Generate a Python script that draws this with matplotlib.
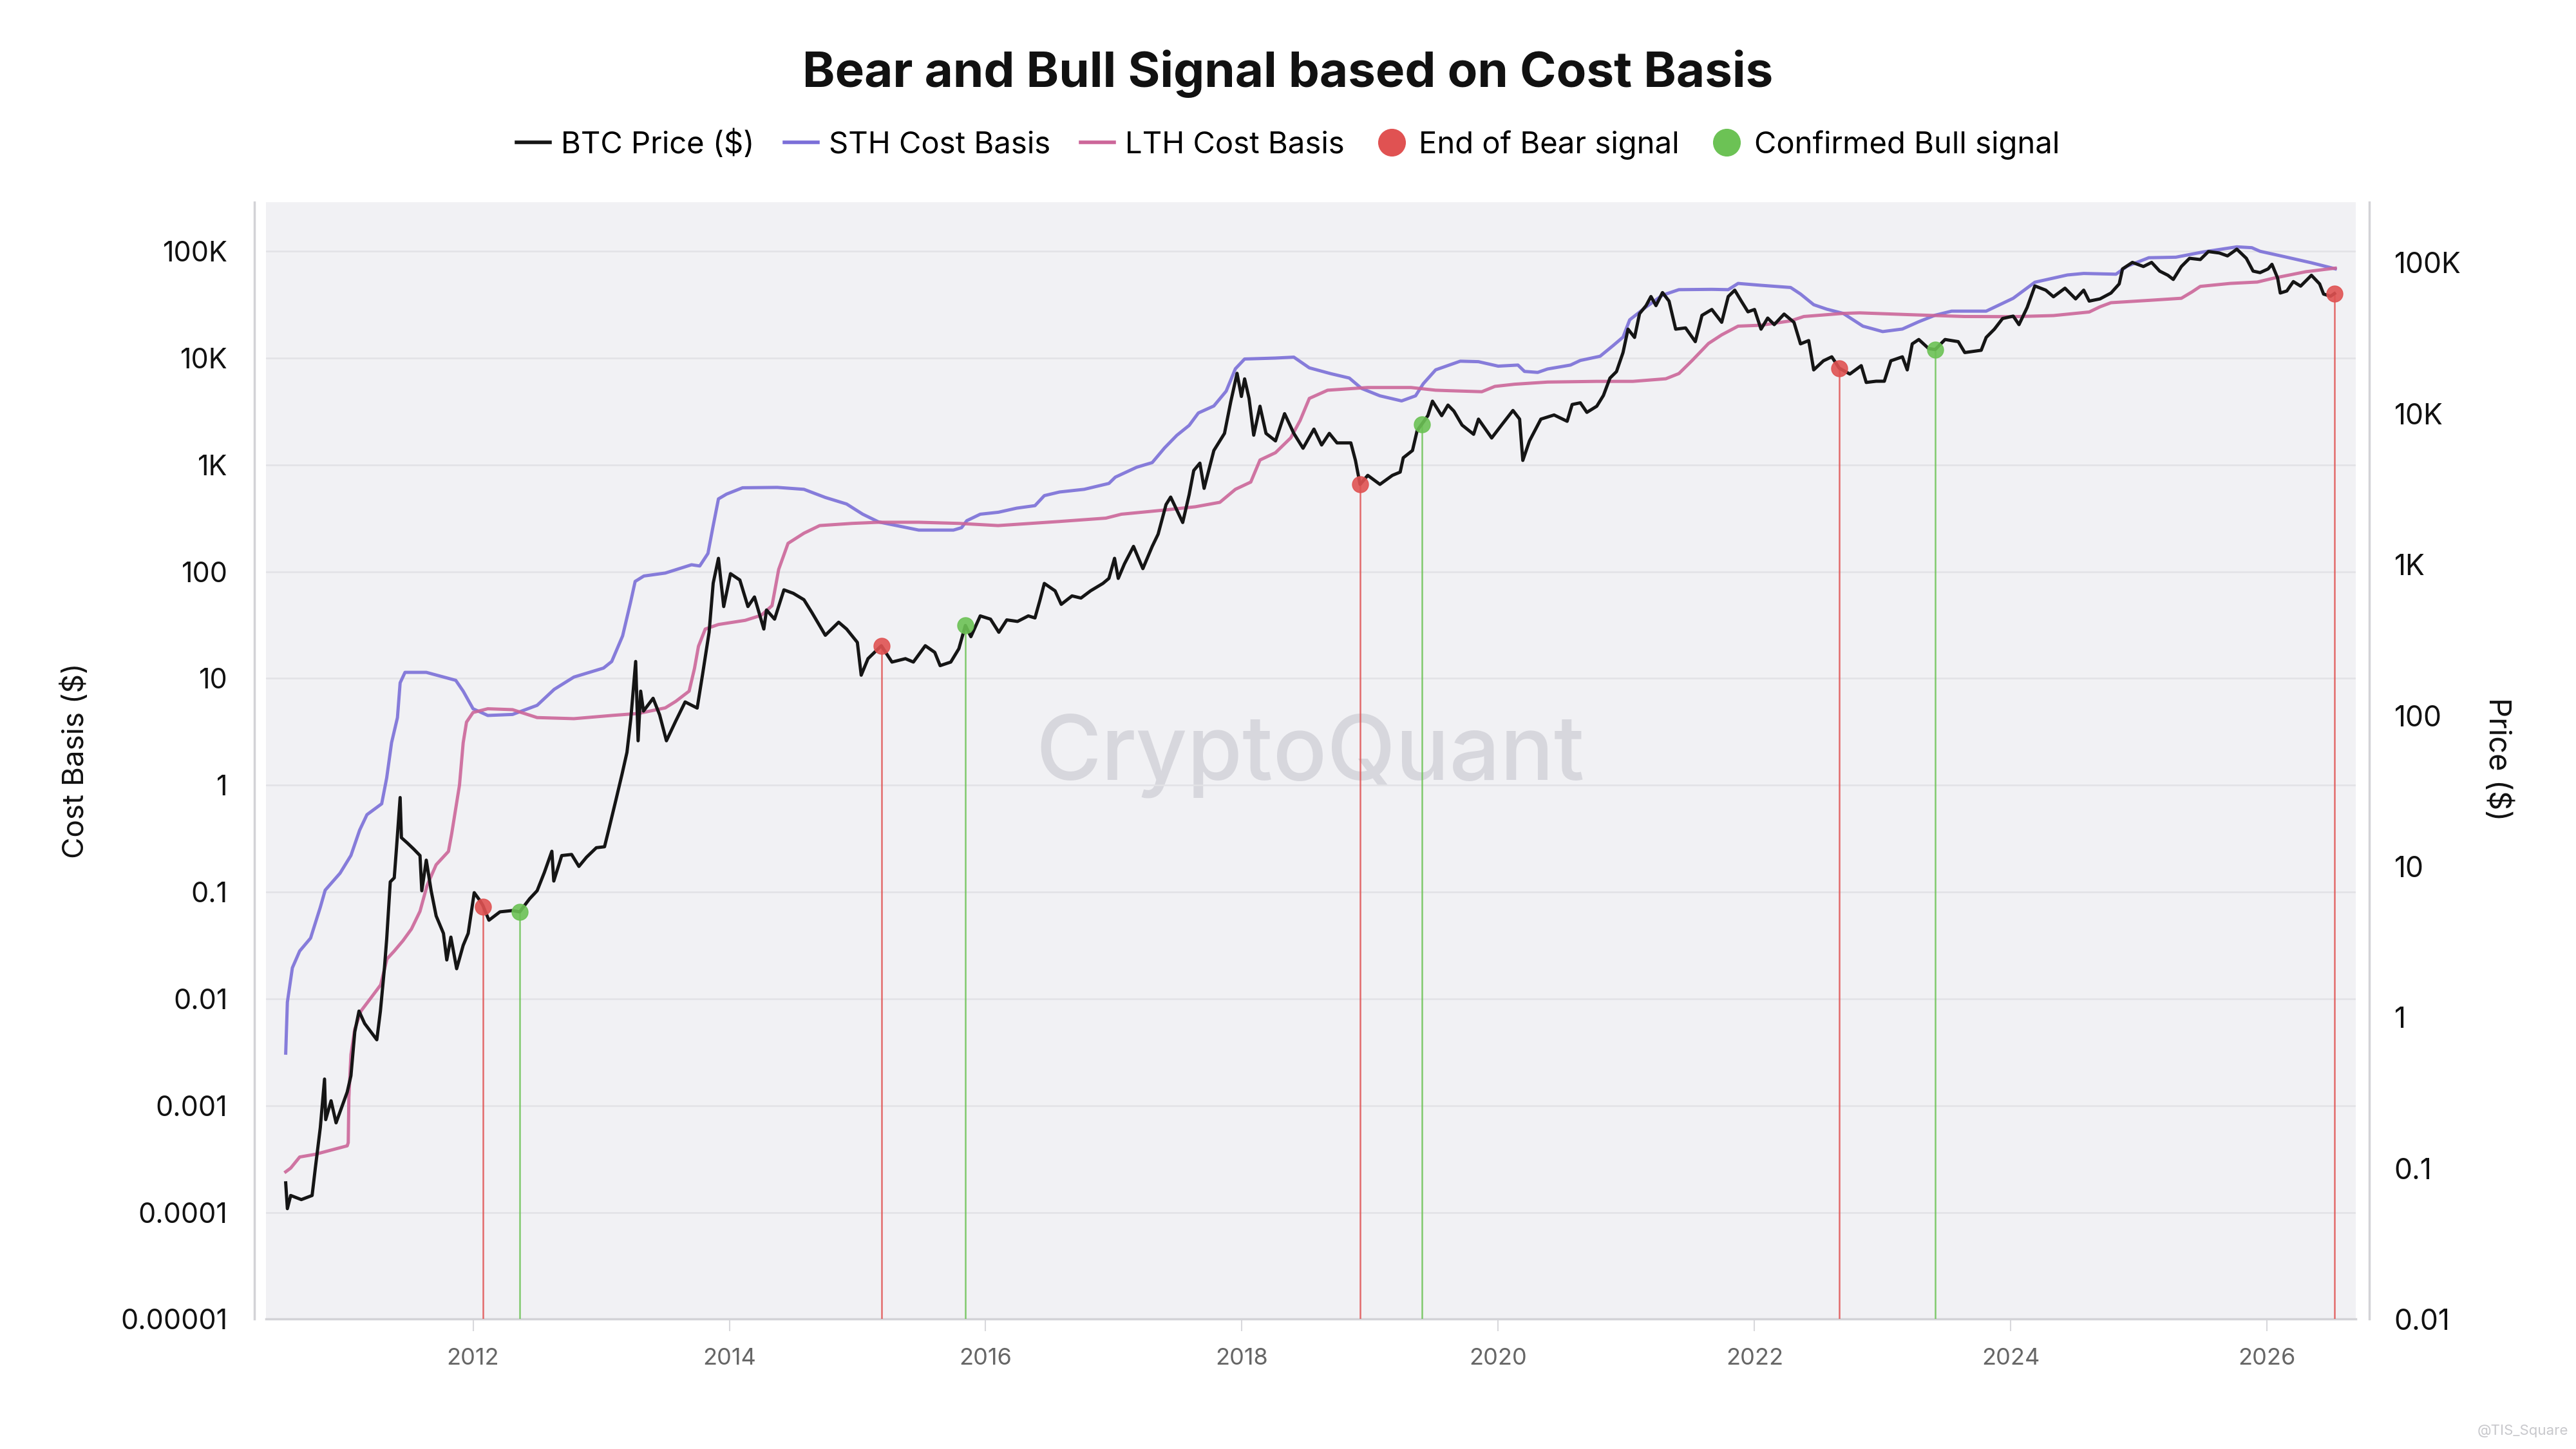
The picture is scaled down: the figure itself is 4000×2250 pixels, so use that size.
#%% Librerias
import matplotlib
matplotlib.use('Agg')
import matplotlib.pyplot as plt
from matplotlib.lines import Line2D
from matplotlib.ticker import NullLocator

plt.rcParams['font.family'] = ['Inter', 'DejaVu Sans']

#%% Datos (fecha en anos decimales)
btc_t = [2010.538, 2010.551, 2010.577, 2010.66, 2010.744, 2010.769, 2010.808, 2010.841, 2010.85, 2010.892,
         2010.931, 2011.018, 2011.047, 2011.077, 2011.110, 2011.154, 2011.249, 2011.277, 2011.308, 2011.326,
         2011.354, 2011.385, 2011.403, 2011.431, 2011.441, 2011.487, 2011.538, 2011.586, 2011.60, 2011.635,
         2011.673, 2011.712, 2011.769, 2011.795, 2011.827, 2011.872, 2011.923, 2011.962, 2012.009, 2012.056,
         2012.077, 2012.124, 2012.210, 2012.308, 2012.364, 2012.441, 2012.500, 2012.556, 2012.615, 2012.63,
         2012.692, 2012.769, 2012.826, 2012.885, 2012.962, 2013.026, 2013.058, 2013.115, 2013.163, 2013.201,
         2013.231, 2013.269, 2013.288, 2013.308, 2013.33, 2013.405, 2013.456, 2013.509, 2013.582, 2013.655,
         2013.749, 2013.791, 2013.842, 2013.874, 2013.915, 2013.956, 2014.009, 2014.082, 2014.145, 2014.196,
         2014.269, 2014.29, 2014.353, 2014.426, 2014.499, 2014.582, 2014.645, 2014.749, 2014.853, 2014.915,
         2014.999, 2015.029, 2015.082, 2015.186, 2015.269, 2015.374, 2015.436, 2015.529, 2015.603, 2015.645,
         2015.728, 2015.791, 2015.842, 2015.885, 2015.958, 2016.038, 2016.103, 2016.165, 2016.249, 2016.333,
         2016.385, 2016.423, 2016.458, 2016.542, 2016.590, 2016.674, 2016.744, 2016.819, 2016.915, 2016.962,
         2017.006, 2017.035, 2017.083, 2017.154, 2017.227, 2017.300, 2017.346, 2017.408, 2017.444, 2017.538,
         2017.588, 2017.624, 2017.672, 2017.705, 2017.781, 2017.864, 2017.913, 2017.962, 2017.996, 2018.021,
         2018.056, 2018.092, 2018.141, 2018.188, 2018.262, 2018.333, 2018.405, 2018.477, 2018.562, 2018.622,
         2018.682, 2018.742, 2018.850, 2018.886, 2018.922, 2018.982, 2019.077, 2019.174, 2019.235, 2019.259,
         2019.331, 2019.367, 2019.403, 2019.451, 2019.487, 2019.559, 2019.608, 2019.654, 2019.718, 2019.808,
         2019.846, 2019.949, 2020.026, 2020.115, 2020.167, 2020.192, 2020.244, 2020.333, 2020.436, 2020.538,
         2020.577, 2020.641, 2020.692, 2020.769, 2020.821, 2020.872, 2020.923, 2020.974, 2021.013, 2021.064,
         2021.103, 2021.154, 2021.192, 2021.231, 2021.282, 2021.333, 2021.385, 2021.462, 2021.538, 2021.590,
         2021.667, 2021.744, 2021.795, 2021.846, 2021.897, 2021.949, 2022.000, 2022.051, 2022.103, 2022.154,
         2022.231, 2022.308, 2022.359, 2022.423, 2022.462, 2022.538, 2022.603, 2022.662, 2022.744, 2022.833,
         2022.872, 2022.949, 2023.013, 2023.064, 2023.154, 2023.192, 2023.231, 2023.282, 2023.359, 2023.410,
         2023.487, 2023.590, 2023.641, 2023.769, 2023.808, 2023.872, 2023.936, 2024.019, 2024.064, 2024.128,
         2024.188, 2024.273, 2024.333, 2024.423, 2024.506, 2024.569, 2024.612, 2024.696, 2024.782, 2024.846,
         2024.872, 2024.949, 2025.035, 2025.099, 2025.162, 2025.226, 2025.268, 2025.331, 2025.395, 2025.479,
         2025.542, 2025.628, 2025.691, 2025.764, 2025.838, 2025.891, 2025.945, 2026.008, 2026.038, 2026.082,
         2026.103, 2026.154, 2026.205, 2026.262, 2026.346, 2026.410, 2026.441, 2026.495, 2026.526]
btc_price = [0.080, 0.054, 0.066, 0.062, 0.066, 0.10, 0.186, 0.39, 0.21, 0.28,
             0.20, 0.32, 0.41, 0.80, 1.1, 0.91, 0.71, 1.1, 2.1, 3.3,
             7.9, 8.4, 13.4, 28.6, 15.5, 14.3, 13, 11.8, 6.9, 11,
             6.9, 4.7, 3.6, 2.4, 3.4, 2.1, 3.0, 3.6, 6.7, 5.9,
             5.5, 4.4, 5.0, 5.1, 5.0, 6.1, 6.9, 9.1, 12.6, 8.0,
             11.8, 12, 10, 11.5, 13.3, 13.5, 17.4, 27.6, 41, 57,
             95, 228, 68, 145, 107, 130, 101, 68, 92, 123,
             112, 187, 356, 753, 1100, 527, 870, 790, 527, 610,
             374, 500, 435, 680, 645, 585, 480, 340, 415, 374,
             305, 185, 238, 290, 226, 238, 226, 290, 262, 214,
             226, 277, 395, 333, 457, 435, 356, 430, 420, 457,
             443, 577, 750, 670, 545, 620, 600, 670, 750, 810,
             1100, 810, 1010, 1320, 940, 1320, 1590, 2500, 2800, 1900,
             2900, 4200, 4700, 3200, 5700, 7400, 12000, 18500, 13000, 17000,
             12600, 7200, 11200, 7400, 6600, 10000, 7400, 5900, 7900, 6200,
             7400, 6400, 6400, 4900, 3400, 3900, 3400, 3900, 4100, 5100,
             5700, 7700, 8500, 9700, 12100, 9700, 11400, 10400, 8400, 7300,
             9200, 6900, 8400, 10500, 9200, 4900, 6600, 9200, 9800, 8900,
             11500, 11800, 10200, 11200, 13200, 17200, 19000, 25400, 36300, 32000,
             46000, 52000, 59700, 52000, 63400, 55700, 36300, 37000, 30000, 44800,
             49000, 40300, 59700, 65800, 55700, 47300, 49000, 36300, 43000, 38900,
             45700, 40300, 29000, 30500, 19500, 22400, 23800, 20000, 18300, 20800,
             16100, 16400, 16400, 22400, 23800, 19500, 29000, 31000, 27000, 26600,
             31000, 30000, 25400, 26300, 32000, 36300, 42700, 44300, 38900, 50600,
             70200, 65800, 59500, 67800, 57600, 65800, 55700, 57600, 63000, 72400,
             91000, 100500, 94400, 100500, 88000, 82600, 77500, 94400, 107000, 105000,
             118600, 116000, 111000, 123000, 107000, 88000, 86000, 91000, 97600, 79300,
             63000, 65000, 75000, 70000, 82600, 72400, 62000, 60000, 62500]

sth_t = [2010.538, 2010.551, 2010.590, 2010.647, 2010.732, 2010.808, 2010.846, 2010.962, 2011.047, 2011.115,
         2011.172, 2011.287, 2011.326, 2011.364, 2011.410, 2011.431, 2011.469, 2011.635, 2011.865, 2011.923,
         2012.000, 2012.115, 2012.308, 2012.500, 2012.633, 2012.787, 2013.018, 2013.082, 2013.167, 2013.228,
         2013.265, 2013.333, 2013.500, 2013.705, 2013.769, 2013.833, 2013.872, 2013.915, 2013.978, 2014.103,
         2014.374, 2014.582, 2014.749, 2014.915, 2015.041, 2015.165, 2015.478, 2015.749, 2015.812, 2015.853,
         2015.958, 2016.100, 2016.242, 2016.385, 2016.458, 2016.577, 2016.769, 2016.962, 2017.012, 2017.179,
         2017.300, 2017.396, 2017.492, 2017.588, 2017.660, 2017.781, 2017.877, 2017.949, 2018.021, 2018.262,
         2018.405, 2018.526, 2018.692, 2018.838, 2018.933, 2019.077, 2019.246, 2019.355, 2019.415, 2019.512,
         2019.704, 2019.846, 2020.000, 2020.154, 2020.205, 2020.308, 2020.385, 2020.564, 2020.641, 2020.795,
         2020.897, 2020.974, 2021.026, 2021.154, 2021.282, 2021.410, 2021.667, 2021.795, 2021.872, 2022.051,
         2022.282, 2022.359, 2022.462, 2022.564, 2022.692, 2022.846, 2023.000, 2023.154, 2023.282, 2023.410,
         2023.538, 2023.808, 2024.019, 2024.188, 2024.442, 2024.569, 2024.821, 2024.908, 2025.077, 2025.288,
         2025.500, 2025.764, 2025.881, 2025.945, 2026.135, 2026.346, 2026.532]
sth_cost = [0.0031, 0.0093, 0.0195, 0.028, 0.037, 0.072, 0.104, 0.15, 0.22, 0.38,
            0.53, 0.67, 1.17, 2.5, 4.3, 9.1, 11.4, 11.4, 9.6, 7.6,
            5.2, 4.5, 4.6, 5.6, 7.9, 10.3, 12.5, 14.4, 25, 51,
            81, 91, 97, 116, 113, 148, 262, 480, 532, 610,
            615, 590, 495, 430, 345, 292, 245, 245, 258, 300,
            345, 360, 393, 415, 515, 557, 590, 670, 767, 950,
            1050, 1440, 1890, 2340, 3060, 3560, 4900, 7940, 9800, 10000,
            10200, 8100, 7150, 6500, 5200, 4430, 3970, 4430, 5750, 7760,
            9350, 9250, 8400, 8600, 7500, 7340, 7900, 8600, 9500, 10400,
            13100, 15700, 22800, 30100, 38800, 43700, 44000, 43700, 50000, 48000,
            45800, 39800, 31600, 28700, 26200, 19900, 17700, 18700, 21900, 25200,
            27500, 27500, 36300, 51300, 60000, 62000, 61000, 72500, 87000, 88000,
            98500, 110000, 108000, 100000, 89000, 78000, 68500]

lth_t = [2010.538, 2010.577, 2010.647, 2010.769, 2011.018, 2011.026, 2011.031, 2011.047, 2011.077, 2011.126,
         2011.203, 2011.279, 2011.328, 2011.385, 2011.453, 2011.519, 2011.586, 2011.641, 2011.712, 2011.808,
         2011.833, 2011.894, 2011.923, 2011.949, 2012.000, 2012.115, 2012.308, 2012.500, 2012.787, 2013.082,
         2013.291, 2013.500, 2013.582, 2013.686, 2013.728, 2013.759, 2013.812, 2013.915, 2014.124, 2014.249,
         2014.333, 2014.385, 2014.458, 2014.582, 2014.705, 2014.958, 2015.167, 2015.478, 2015.791, 2016.097,
         2016.577, 2016.938, 2017.059, 2017.372, 2017.636, 2017.828, 2017.949, 2018.069, 2018.141, 2018.262,
         2018.381, 2018.454, 2018.526, 2018.669, 2018.982, 2019.319, 2019.512, 2019.615, 2019.872, 2019.974,
         2020.128, 2020.385, 2020.769, 2021.051, 2021.308, 2021.410, 2021.513, 2021.641, 2021.744, 2021.872,
         2022.051, 2022.282, 2022.385, 2022.692, 2022.821, 2023.205, 2023.636, 2024.019, 2024.333, 2024.612,
         2024.696, 2024.782, 2025.077, 2025.331, 2025.415, 2025.479, 2025.712, 2025.923, 2026.051, 2026.304,
         2026.532]
lth_cost = [0.00024, 0.00026, 0.00033, 0.00035, 0.00042, 0.00045, 0.0012, 0.0030, 0.0052, 0.0077,
            0.0102, 0.0135, 0.0236, 0.028, 0.035, 0.045, 0.066, 0.115, 0.18, 0.24,
            0.35, 1.0, 2.5, 3.9, 4.8, 5.2, 5.1, 4.3, 4.2, 4.5,
            4.7, 5.3, 6.1, 7.6, 12.4, 20, 29, 32, 35, 39,
            48, 105, 184, 229, 270, 283, 290, 290, 283, 270,
            295, 317, 345, 375, 405, 446, 590, 690, 1110, 1300,
            1790, 2600, 4190, 5000, 5300, 5300, 5000, 4950, 4840, 5430,
            5690, 5960, 6050, 6050, 6400, 7160, 9480, 13700, 16500, 19900,
            20300, 22300, 24500, 26200, 26500, 25500, 24500, 24400, 25000, 27000,
            30200, 33000, 34700, 36300, 41700, 46900, 50000, 51500, 56000, 64400,
            69500]

bear_t = [2012.077, 2015.186, 2018.922, 2022.662, 2026.526]
bear_price = [5.4, 290, 3400, 20000, 62500]
bull_t = [2012.364, 2015.842, 2019.403, 2023.410]
bull_price = [5.0, 395, 8500, 26600]

years = [2012, 2014, 2016, 2018, 2020, 2022, 2024, 2026]
left_ticks = [1e5, 1e4, 1e3, 1e2, 10, 1, 0.1, 0.01, 0.001, 0.0001, 0.00001]
left_labels = ['100K', '10K', '1K', '100', '10', '1', '0.1', '0.01', '0.001', '0.0001', '0.00001']
right_ticks = [1e5, 1e4, 1e3, 1e2, 10, 1, 0.1, 0.01]
right_labels = ['100K', '10K', '1K', '100', '10', '1', '0.1', '0.01']

#%% Colores
c_btc = '#151515'
c_sth = '#7b6fd8'
c_lth = '#cc6699'
c_bear = '#e05252'
c_bull = '#6cc255'

#%% Figura
fig = plt.figure(figsize=(40, 22.5), dpi=100)
fig.patch.set_facecolor('white')
ax = fig.add_axes([0.1033, 0.0896, 0.8112, 0.7710])
ax.set_facecolor('#f1f1f4')
ax.set_yscale('log')
ax.set_ylim(1e-5, 10**5.4615)
ax.set_xlim(2010.385, 2026.692)

ax2 = ax.twinx()
ax2.set_yscale('log')
ax2.set_ylim(0.01, 10**5.4025)

# marca de agua
ax.text(0.5086, 0.4785, 'CryptoQuant', transform=fig.transFigure, ha='center', va='center',
        fontsize=100, fontweight='medium', color='#d7d7dd', zorder=0)

ax.plot(sth_t, sth_cost, color=c_sth, lw=3.6, alpha=0.9, zorder=3)
ax.plot(lth_t, lth_cost, color=c_lth, lw=3.6, alpha=0.9, zorder=3)

ax2.plot(btc_t, btc_price, color=c_btc, lw=3.6, zorder=4)
ax2.vlines(bear_t, 0.01, bear_price, color=c_bear, lw=1.8, alpha=0.85, zorder=2)
ax2.vlines(bull_t, 0.01, bull_price, color=c_bull, lw=1.8, alpha=0.85, zorder=2)
ax2.plot(bear_t, bear_price, 'o', color=c_bear, ms=18, alpha=0.9, zorder=5)
ax2.plot(bull_t, bull_price, 'o', color=c_bull, ms=18, alpha=0.9, zorder=5)

#%% Ejes
ax.grid(axis='y', color='#e2e2e6', lw=1.8)
ax.set_axisbelow(True)
for a in (ax, ax2):
    a.yaxis.set_minor_locator(NullLocator())
    a.spines['top'].set_visible(False)
ax.spines['right'].set_visible(False)
ax2.spines['left'].set_visible(False)
ax2.spines['bottom'].set_visible(False)
ax.spines['left'].set_position(('outward', 13))
ax2.spines['right'].set_position(('outward', 15))
for s in (ax.spines['left'], ax2.spines['right'], ax.spines['bottom']):
    s.set_color('#d3d3d7')
    s.set_linewidth(2.5)

ax.set_yticks(left_ticks)
ax.set_yticklabels(left_labels)
ax2.set_yticks(right_ticks)
ax2.set_yticklabels(right_labels)
ax.tick_params(axis='y', length=0, pad=30, labelsize=31, labelcolor='#111111')
ax2.tick_params(axis='y', length=0, pad=28, labelsize=32, labelcolor='#111111')
ax.set_xticks(years)
ax.set_xticklabels([str(y) for y in years])
ax.tick_params(axis='x', length=14, width=1.5, color='#d8d8dc', labelsize=26,
               labelcolor='#666666', pad=18)

fig.text(46 / 1568, 1 - 463 / 882, 'Cost Basis ($)', rotation=90, ha='center', va='center',
         fontsize=33, color='#111111')
fig.text(1520 / 1568, 1 - 462 / 882, 'Price ($)', rotation=270, ha='center', va='center',
         fontsize=34, color='#111111')

#%% Titulo y leyenda
fig.text(0.5, 0.949, 'Bear and Bull Signal based on Cost Basis', ha='center', va='center',
         fontsize=55, fontweight='bold', color='#111111')

handles = [Line2D([], [], color=c_btc, lw=4, label='BTC Price ($)'),
           Line2D([], [], color=c_sth, lw=4, label='STH Cost Basis'),
           Line2D([], [], color=c_lth, lw=4, label='LTH Cost Basis'),
           Line2D([], [], marker='o', lw=0, color=c_bear, ms=30, label='End of Bear signal'),
           Line2D([], [], marker='o', lw=0, color=c_bull, ms=30, label='Confirmed Bull signal')]
fig.legend(handles=handles, loc='center', bbox_to_anchor=(0.5, 0.900), ncol=5, frameon=False,
           fontsize=34, handlelength=1.1, handletextpad=0.35, columnspacing=1.0)

fig.text(0.997, 0.008, '@TIS_Square', ha='right', va='bottom', fontsize=16, color='#c8c8cc')

plt.savefig('out.png', dpi=100)
plt.close()
